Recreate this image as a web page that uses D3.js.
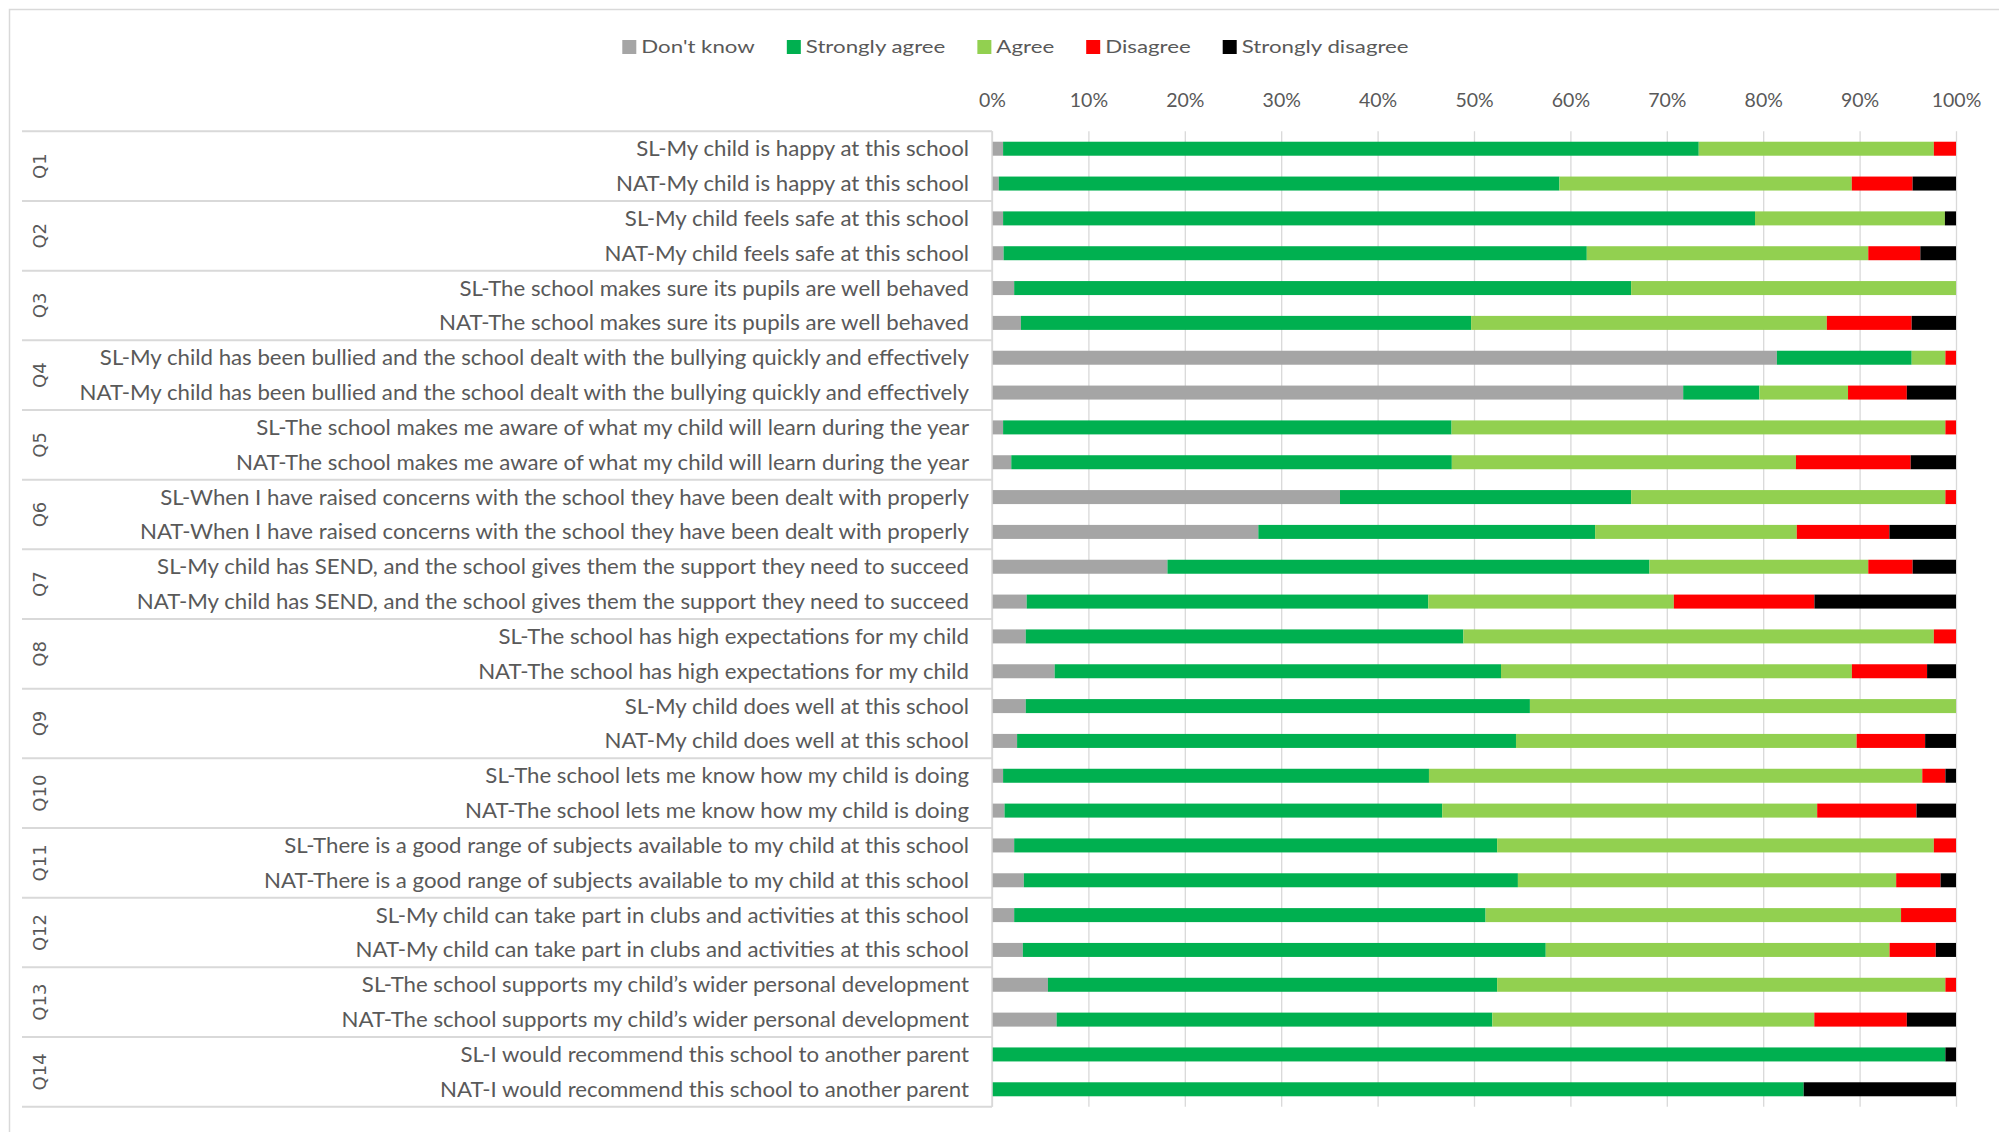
<!DOCTYPE html>
<html>
<head>
<meta charset="utf-8">
<script src="https://cdn.jsdelivr.net/npm/d3@7"></script>
<style>
  html, body { margin: 0; padding: 0; background: #fff; }
  svg { display: block; }
</style>
</head>
<body>
<script>
// Parent survey, school (SL) vs national (NAT), 100% stacked bars

var groups = ["Q1","Q2","Q3","Q4","Q5","Q6","Q7","Q8","Q9","Q10","Q11","Q12","Q13","Q14"];

var statements = [
    "My child is happy at this school",
    "My child feels safe at this school",
    "The school makes sure its pupils are well behaved",
    "My child has been bullied and the school dealt with the bullying quickly and effectively",
    "The school makes me aware of what my child will learn during the year",
    "When I have raised concerns with the school they have been dealt with properly",
    "My child has SEND, and the school gives them the support they need to succeed",
    "The school has high expectations for my child",
    "My child does well at this school",
    "The school lets me know how my child is doing",
    "There is a good range of subjects available to my child at this school",
    "My child can take part in clubs and activities at this school",
    "The school supports my child\u2019s wider personal development",
    "I would recommend this school to another parent"
];

var prefixes = ["SL-", "NAT-"];

var seriesNames = ["Don't know", "Strongly agree", "Agree", "Disagree", "Strongly disagree"];

// one value per row: SL, NAT, SL, NAT ... (percent)
var dontKnow = [1.15, 0.7, 1.15, 1.2, 2.3, 3.0, 81.5, 71.7, 1.15, 2.0, 36.1, 27.6, 18.2, 3.6,
                3.5, 6.5, 3.5, 2.6, 1.15, 1.3, 2.3, 3.3, 2.3, 3.2, 5.8, 6.7, 0, 0];
var stronglyAgree = [72.2, 58.1, 78.0, 60.5, 64.0, 46.7, 14.0, 7.9, 46.5, 45.7, 30.2, 34.9, 50.0, 41.7,
                45.4, 46.3, 52.3, 51.7, 44.2, 45.4, 50.1, 51.2, 48.9, 54.3, 46.6, 45.2, 98.9, 84.2];
var agree = [24.4, 30.3, 19.7, 29.2, 33.7, 36.9, 3.5, 9.2, 51.2, 35.7, 32.6, 20.9, 22.7, 25.5,
                48.8, 36.4, 44.2, 35.3, 51.2, 38.9, 45.3, 39.2, 43.1, 35.7, 46.5, 33.4, 0, 0];
var disagree = [2.3, 6.3, 0, 5.4, 0, 8.8, 1.1, 6.1, 1.1, 11.9, 1.1, 9.6, 4.6, 14.6,
                2.3, 7.8, 0, 7.1, 2.4, 10.3, 2.3, 4.6, 5.7, 4.8, 1.1, 9.6, 0, 0];
var stronglyDisagree = [0, 4.5, 1.15, 3.7, 0, 4.6, 0, 5.1, 0, 4.7, 0, 6.9, 4.5, 14.7,
                0, 3.0, 0, 3.2, 1.1, 4.1, 0, 1.6, 0, 2.1, 0, 5.1, 1.1, 15.8];

var colors = ["#A5A5A5", "#00B050", "#92D050", "#FF0000", "#000000"];

var width = 1999, height = 1132;
var textColor = "#595959";
var gridColor = "#d9d9d9";
var labelFont = "Lato, 'Open Sans', sans-serif";

var svg = d3.select("body")
    .append("svg")
    .attr("width", width)
    .attr("height", height);

svg.append("rect")
    .attr("width", width).attr("height", height)
    .attr("fill", "#fff");

// chart area border
svg.append("rect")
    .attr("x", 9.5).attr("y", 9.5)
    .attr("width", width + 50).attr("height", height + 50)
    .attr("fill", "none")
    .attr("stroke", gridColor)
    .attr("stroke-width", 1.5);

// build rows
var rows = [];
statements.forEach(function(s, qi) {
    prefixes.forEach(function(p) {
        var i = rows.length;
        rows.push({
            id: i,
            label: p + s,
            group: groups[qi],
            "Don't know": dontKnow[i],
            "Strongly agree": stronglyAgree[i],
            "Agree": agree[i],
            "Disagree": disagree[i],
            "Strongly disagree": stronglyDisagree[i]
        });
    });
});

var plotTop = 131.3, plotBottom = 1106.7, plotLeft = 992, plotRight = 1956;

var x = d3.scaleLinear()
    .domain([0, 1])
    .range([plotLeft, plotRight]);

var y = d3.scaleBand()
    .domain(rows.map(function(d) { return d.id; }))
    .range([plotTop, plotBottom]);

var barH = 14;

// gridlines + tick labels
var xAxis = d3.axisTop(x)
    .ticks(10, ".0%")
    .tickSize(-(plotBottom - plotTop))
    .tickPadding(24);

var axisG = svg.append("g")
    .attr("transform", "translate(0," + plotTop + ")")
    .call(xAxis);
axisG.select(".domain").remove();
axisG.selectAll(".tick line").attr("stroke", gridColor).attr("stroke-width", 1.3);
axisG.selectAll(".tick text")
    .attr("fill", textColor)
    .style("font-family", labelFont)
    .style("font-size", "19.5px");

// stacked bars
var stack = d3.stack()
    .keys(seriesNames)
    .offset(d3.stackOffsetExpand);

var layers = stack(rows);

svg.append("g")
    .selectAll("g")
    .data(layers)
    .enter()
    .append("g")
    .attr("fill", function(d, i) { return colors[i]; })
    .selectAll("rect")
    .data(function(d) { return d; })
    .enter()
    .append("rect")
    .attr("x", function(d) { return x(d[0]); })
    .attr("width", function(d) { return Math.max(0, x(d[1]) - x(d[0])); })
    .attr("y", function(d) { return y(d.data.id) + (y.bandwidth() - barH) / 2; })
    .attr("height", barH);

// category table: group separators and vertical axis line
var groupStep = y.step() * 2;
svg.append("g")
    .selectAll("line")
    .data(d3.range(groups.length + 1))
    .enter()
    .append("line")
    .attr("x1", 22).attr("x2", plotLeft)
    .attr("y1", function(g) { return plotTop + g * groupStep; })
    .attr("y2", function(g) { return plotTop + g * groupStep; })
    .attr("stroke", gridColor)
    .attr("stroke-width", 2);

svg.append("line")
    .attr("x1", plotLeft).attr("x2", plotLeft)
    .attr("y1", plotTop).attr("y2", plotBottom)
    .attr("stroke", gridColor)
    .attr("stroke-width", 1.5);

// Q labels
svg.append("g")
    .selectAll("text")
    .data(groups)
    .enter()
    .append("text")
    .attr("transform", function(g, i) {
        return "translate(40," + (plotTop + (i + 0.5) * groupStep) + ") rotate(-90)";
    })
    .attr("text-anchor", "middle")
    .attr("dy", "0.36em")
    .attr("fill", textColor)
    .style("font-family", "'DejaVu Sans', sans-serif")
    .style("font-size", "18px")
    .text(function(g) { return g; });

// row labels, squeezed to the width of the original
var labelG = svg.append("g")
    .attr("transform", "translate(969,0)");
var rowText = labelG.selectAll("text")
    .data(rows)
    .enter()
    .append("text")
    .attr("x", 0)
    .attr("y", function(d) { return y(d.id) + y.bandwidth() / 2; })
    .attr("dy", "0.36em")
    .attr("text-anchor", "end")
    .attr("fill", textColor)
    .style("font-family", labelFont)
    .style("font-size", "21px")
    .text(function(d) { return d.label; });

var longest = d3.max(rowText.nodes(), function(n) { return n.getComputedTextLength(); });
labelG.attr("transform", "translate(969,0) scale(" + (890 / longest) + ",1)");

// legend
var legend = svg.append("g");
var items = legend.selectAll("g")
    .data(seriesNames)
    .enter()
    .append("g");
items.append("rect")
    .attr("width", 14).attr("height", 14)
    .attr("y", 40)
    .attr("fill", function(d, i) { return colors[i]; });
var legText = items.append("text")
    .attr("y", 47)
    .attr("dy", "0.36em")
    .attr("fill", textColor)
    .style("font-family", labelFont)
    .style("font-size", "17.5px")
    .text(function(d) { return d; });

var sdW = legText.nodes()[4].getComputedTextLength();
var sx = 167 / sdW;
var cursor = 0, offs = [];
legText.each(function(d, i) {
    offs.push(cursor);
    cursor += 14 + 5 + this.getComputedTextLength() * sx + 32;
});
var total = cursor - 32;
var start = 1015.5 - total / 2;
items.each(function(d, i) {
    var g = d3.select(this);
    g.attr("transform", "translate(" + (start + offs[i]) + ",0)");
    g.select("text")
        .attr("transform", "translate(19,0) scale(" + sx + ",1)");
});
</script>
</body>
</html>
